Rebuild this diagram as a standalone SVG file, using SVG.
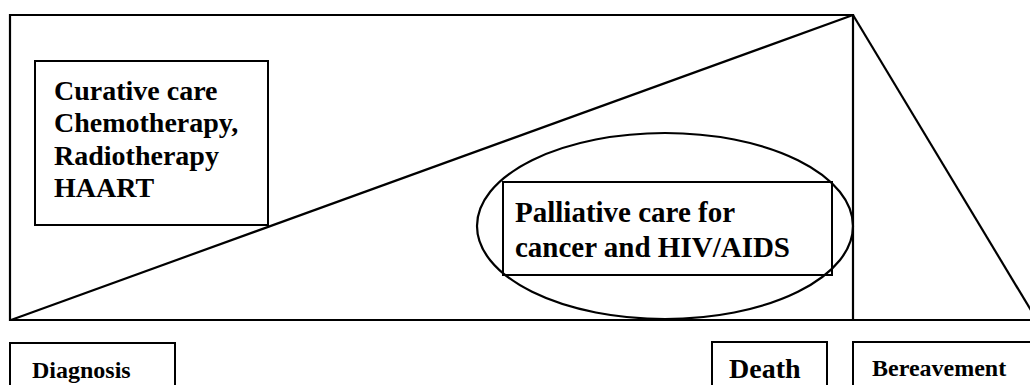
<svg xmlns="http://www.w3.org/2000/svg" width="1030" height="385" viewBox="0 0 1030 385">
<style>
.ln{fill:none;stroke:#000;stroke-width:2.2}
.bx{fill:none;stroke:#000;stroke-width:2}
.t{font-family:"Liberation Serif","Times New Roman",serif;font-weight:bold;fill:#000}
</style>
<rect width="1030" height="385" fill="#fff"/>
<g id="connectors">
<polyline class="ln" points="853,320 853,15 10,15 10,320 1030,320"/>
<line class="ln" x1="11" y1="320" x2="853" y2="15"/>
<line class="ln" x1="853" y1="15" x2="1032" y2="312"/>
</g>
<g id="curative">
<rect class="bx" x="35" y="61" width="233" height="164"/>
<text class="t" font-size="28" x="54" y="100">Curative care</text>
<text class="t" font-size="28" x="54" y="132">Chemotherapy,</text>
<text class="t" font-size="28" x="54" y="165">Radiotherapy</text>
<text class="t" font-size="28" x="54" y="197">HAART</text>
</g>
<g id="palliative">
<ellipse class="ln" cx="665" cy="226" rx="188" ry="93"/>
<rect class="bx" x="503" y="182" width="329" height="93"/>
<text class="t" font-size="29" x="515" y="222">Palliative care for</text>
<text class="t" font-size="29" x="515" y="257">cancer and HIV/AIDS</text>
</g>
<g id="diagnosis">
<rect class="bx" x="10" y="343" width="165" height="50"/>
<text class="t" font-size="24" x="32" y="378">Diagnosis</text>
</g>
<g id="death">
<rect class="bx" x="712" y="342" width="115" height="50"/>
<text class="t" font-size="28" x="729" y="378">Death</text>
</g>
<g id="bereavement">
<rect class="bx" x="853" y="342" width="190" height="50"/>
<text class="t" font-size="24" x="872" y="376">Bereavement</text>
</g>
</svg>
